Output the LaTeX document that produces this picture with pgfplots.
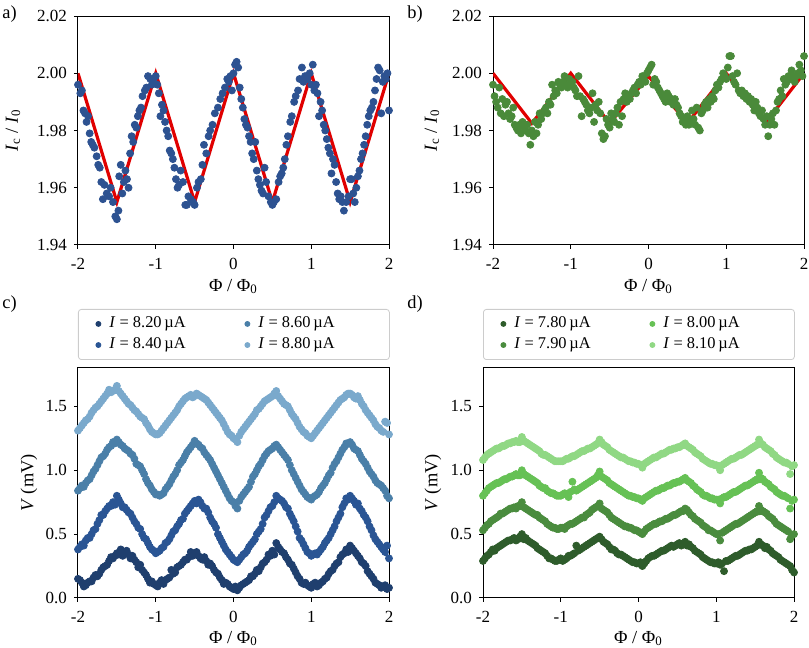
\documentclass[border=0pt]{standalone}
\usepackage{fontspec}
\setmainfont{Liberation Serif}
\usepackage{pgfplots}
\usepackage{pgfplotstable}
\pgfplotsset{compat=1.18}
\definecolor{adot}{HTML}{2D5291}
\definecolor{bdot}{HTML}{4A8A3A}
\definecolor{fitred}{HTML}{E00000}
\definecolor{cA}{HTML}{1F3F6E}
\definecolor{cB}{HTML}{2A5594}
\definecolor{cC}{HTML}{4A7FA8}
\definecolor{cD}{HTML}{7AA9CC}
\definecolor{dA}{HTML}{2E5C2B}
\definecolor{dB}{HTML}{4A8C3E}
\definecolor{dC}{HTML}{66C155}
\definecolor{dD}{HTML}{90D884}

\pgfplotstableread{
x y
-2.00 1.996
-1.97 1.993
-1.95 1.994
-1.93 1.987
-1.91 1.986
-1.89 1.983
-1.87 1.985
-1.85 1.979
-1.83 1.976
-1.81 1.975
-1.79 1.974
-1.76 1.971
-1.74 1.968
-1.72 1.967
-1.70 1.962
-1.68 1.956
-1.66 1.961
-1.63 1.958
-1.60 1.957
-1.58 1.960
-1.55 1.955
-1.52 1.950
-1.50 1.949
-1.48 1.952
-1.47 1.964
-1.45 1.968
-1.43 1.958
-1.41 1.962
-1.39 1.966
-1.37 1.963
-1.35 1.960
-1.33 1.972
-1.31 1.978
-1.29 1.976
-1.27 1.982
-1.25 1.981
-1.23 1.985
-1.21 1.987
-1.19 1.988
-1.17 1.992
-1.14 1.994
-1.12 1.995
-1.10 1.999
-1.07 1.998
-1.05 1.996
-1.03 1.998
-1.00 1.999
-0.98 1.996
-0.96 1.993
-0.94 1.985
-0.92 1.989
-0.90 1.987
-0.88 1.983
-0.86 1.980
-0.84 1.978
-0.82 1.973
-0.80 1.972
-0.78 1.970
-0.76 1.967
-0.74 1.963
-0.72 1.960
-0.70 1.961
-0.68 1.966
-0.65 1.962
-0.62 1.954
-0.60 1.954
-0.58 1.957
-0.55 1.956
-0.52 1.955
-0.50 1.954
-0.47 1.960
-0.45 1.962
-0.42 1.963
-0.40 1.968
-0.38 1.975
-0.35 1.972
-0.32 1.978
-0.30 1.980
-0.27 1.982
-0.24 1.986
-0.20 1.988
-0.17 1.991
-0.14 1.993
-0.11 1.995
-0.08 1.998
-0.06 1.997
-0.04 1.999
-0.02 1.994
0.00 2.000
0.02 2.003
0.04 2.004
0.06 2.002
0.08 1.995
0.10 1.991
0.12 1.988
0.14 1.984
0.16 1.982
0.18 1.981
0.20 1.978
0.22 1.976
0.24 1.972
0.26 1.970
0.28 1.976
0.30 1.966
0.32 1.963
0.34 1.961
0.36 1.959
0.38 1.958
0.40 1.967
0.42 1.962
0.45 1.957
0.48 1.955
0.50 1.954
0.52 1.955
0.55 1.956
0.58 1.962
0.60 1.964
0.62 1.965
0.64 1.967
0.66 1.970
0.68 1.975
0.70 1.978
0.73 1.983
0.75 1.985
0.78 1.990
0.80 1.992
0.83 1.994
0.85 1.998
0.88 2.002
0.90 1.997
0.92 1.999
0.95 1.998
0.98 2.000
1.00 1.996
1.02 2.003
1.04 1.994
1.06 1.996
1.08 1.993
1.10 1.985
1.12 1.990
1.14 1.987
1.16 1.982
1.18 1.980
1.20 1.977
1.22 1.974
1.24 1.972
1.26 1.965
1.28 1.970
1.30 1.968
1.32 1.962
1.34 1.958
1.36 1.956
1.38 1.957
1.40 1.955
1.42 1.952
1.45 1.955
1.48 1.957
1.50 1.963
1.52 1.963
1.54 1.958
1.56 1.955
1.58 1.960
1.60 1.964
1.62 1.966
1.64 1.970
1.66 1.972
1.68 1.975
1.70 1.978
1.72 1.982
1.74 1.985
1.76 1.987
1.78 1.988
1.80 1.990
1.82 1.994
1.84 1.998
1.86 2.002
1.88 2.001
1.90 1.986
1.92 1.997
1.94 1.999
1.96 1.998
1.98 2.000
2.00 1.987
}\tabA

\pgfplotstableread{
x y
-2.00 1.996
-1.98 1.992
-1.96 1.990
-1.94 1.988
-1.92 1.995
-1.90 1.986
-1.88 1.991
-1.86 1.985
-1.84 1.989
-1.82 1.990
-1.80 1.986
-1.78 1.984
-1.76 1.985
-1.74 1.988
-1.72 1.982
-1.70 1.981
-1.68 1.980
-1.66 1.982
-1.64 1.979
-1.62 1.983
-1.60 1.981
-1.58 1.980
-1.56 1.982
-1.54 1.979
-1.52 1.975
-1.50 1.980
-1.48 1.978
-1.46 1.983
-1.44 1.979
-1.42 1.982
-1.40 1.986
-1.38 1.984
-1.36 1.986
-1.34 1.987
-1.32 1.988
-1.30 1.986
-1.28 1.990
-1.26 1.989
-1.24 1.996
-1.22 1.992
-1.20 1.994
-1.18 1.993
-1.16 1.997
-1.14 1.996
-1.12 1.995
-1.10 1.997
-1.08 1.999
-1.06 1.996
-1.04 1.995
-1.02 1.998
-1.00 1.996
-0.98 1.997
-0.96 1.995
-0.94 1.994
-0.92 1.992
-0.90 1.999
-0.88 1.992
-0.86 1.985
-0.84 1.991
-0.82 1.990
-0.80 1.989
-0.78 1.987
-0.76 1.986
-0.74 1.988
-0.72 1.993
-0.70 1.983
-0.68 1.989
-0.66 1.987
-0.64 1.990
-0.62 1.986
-0.60 1.979
-0.58 1.977
-0.56 1.978
-0.54 1.984
-0.52 1.982
-0.50 1.981
-0.48 1.986
-0.46 1.984
-0.44 1.983
-0.42 1.986
-0.40 1.988
-0.38 1.982
-0.36 1.990
-0.34 1.985
-0.32 1.991
-0.30 1.993
-0.28 1.990
-0.26 1.992
-0.24 1.991
-0.22 1.993
-0.20 1.994
-0.18 1.995
-0.16 1.993
-0.14 1.996
-0.12 1.997
-0.10 1.996
-0.08 1.999
-0.06 1.998
-0.04 1.997
-0.02 2.000
0.00 2.001
0.02 2.002
0.04 2.003
0.06 1.996
0.08 1.998
0.10 1.997
0.12 1.995
0.14 1.994
0.16 1.993
0.18 1.992
0.20 1.991
0.22 1.990
0.24 1.993
0.26 1.992
0.28 1.990
0.30 1.991
0.32 1.989
0.34 1.991
0.36 1.989
0.38 1.988
0.40 1.986
0.42 1.985
0.44 1.983
0.46 1.984
0.48 1.982
0.50 1.985
0.52 1.982
0.54 1.983
0.56 1.987
0.58 1.984
0.60 1.982
0.62 1.988
0.64 1.981
0.66 1.980
0.68 1.986
0.70 1.987
0.72 1.989
0.74 1.990
0.76 1.988
0.78 1.991
0.80 1.990
0.82 1.992
0.84 1.991
0.86 1.994
0.88 1.996
0.90 1.995
0.92 1.997
0.94 1.998
0.96 2.000
0.98 1.999
1.00 1.998
1.02 2.002
1.04 2.006
1.06 2.006
1.08 1.999
1.10 1.997
1.12 1.996
1.14 2.000
1.16 1.994
1.18 1.993
1.20 1.994
1.22 1.992
1.24 1.993
1.26 1.991
1.28 1.992
1.30 1.990
1.32 1.991
1.34 1.989
1.36 1.987
1.38 1.990
1.40 1.988
1.42 1.986
1.44 1.985
1.46 1.987
1.48 1.984
1.50 1.982
1.52 1.985
1.54 1.978
1.56 1.982
1.58 1.984
1.60 1.986
1.62 1.982
1.64 1.987
1.66 1.990
1.68 1.991
1.70 1.994
1.72 1.992
1.74 1.998
1.76 1.996
1.78 1.997
1.80 1.999
1.82 1.998
1.84 2.001
1.86 1.999
1.88 1.997
1.90 1.999
1.92 2.000
1.94 2.003
1.96 2.001
1.98 1.999
2.00 2.006
}\tabB

\pgfplotstableread{
x c1 c2 c3 c4
-2.00 0.15 0.38 0.84 1.31
-1.95 0.12 0.42 0.88 1.35
-1.90 0.10 0.45 0.90 1.39
-1.85 0.13 0.47 0.93 1.42
-1.80 0.16 0.53 0.99 1.47
-1.75 0.17 0.58 1.04 1.50
-1.70 0.22 0.65 1.10 1.54
-1.65 0.25 0.68 1.13 1.58
-1.60 0.29 0.72 1.18 1.63
-1.55 0.31 0.75 1.22 1.62
-1.50 0.35 0.80 1.24 1.66
-1.45 0.38 0.74 1.20 1.60
-1.40 0.36 0.71 1.17 1.56
-1.35 0.34 0.67 1.15 1.52
-1.30 0.33 0.63 1.12 1.49
-1.25 0.28 0.58 1.05 1.46
-1.20 0.26 0.54 1.03 1.42
-1.15 0.20 0.47 0.97 1.40
-1.10 0.15 0.43 0.90 1.35
-1.05 0.13 0.38 0.85 1.30
-1.00 0.10 0.35 0.81 1.28
-0.95 0.12 0.37 0.80 1.29
-0.90 0.11 0.40 0.82 1.33
-0.85 0.15 0.44 0.87 1.37
-0.80 0.22 0.49 0.92 1.41
-0.75 0.20 0.53 0.97 1.45
-0.70 0.25 0.58 1.04 1.50
-0.65 0.28 0.62 1.08 1.54
-0.60 0.30 0.68 1.14 1.57
-0.55 0.36 0.72 1.18 1.59
-0.50 0.35 0.76 1.23 1.58
-0.45 0.33 0.77 1.20 1.59
-0.40 0.30 0.72 1.17 1.57
-0.35 0.29 0.70 1.12 1.55
-0.30 0.27 0.63 1.08 1.51
-0.25 0.22 0.58 1.02 1.47
-0.20 0.19 0.50 0.96 1.43
-0.15 0.14 0.44 0.90 1.39
-0.10 0.12 0.38 0.84 1.33
-0.05 0.09 0.34 0.78 1.28
0.00 0.07 0.30 0.75 1.25
0.05 0.06 0.28 0.70 1.22
0.10 0.10 0.32 0.79 1.30
0.15 0.12 0.35 0.83 1.34
0.20 0.14 0.40 0.87 1.38
0.25 0.17 0.44 0.95 1.42
0.30 0.22 0.50 1.00 1.47
0.35 0.24 0.54 1.05 1.50
0.40 0.28 0.63 1.11 1.54
0.45 0.34 0.68 1.15 1.56
0.50 0.37 0.72 1.17 1.58
0.55 0.43 0.80 1.20 1.62
0.60 0.38 0.77 1.16 1.56
0.65 0.35 0.74 1.12 1.52
0.70 0.30 0.70 1.08 1.50
0.75 0.26 0.63 1.00 1.44
0.80 0.20 0.56 0.94 1.40
0.85 0.15 0.47 0.88 1.34
0.90 0.11 0.42 0.83 1.30
0.95 0.10 0.36 0.79 1.27
1.00 0.08 0.33 0.77 1.25
1.05 0.12 0.35 0.80 1.29
1.10 0.10 0.36 0.83 1.33
1.15 0.13 0.40 0.88 1.37
1.20 0.16 0.45 0.93 1.41
1.25 0.21 0.50 0.98 1.45
1.30 0.25 0.56 1.05 1.49
1.35 0.28 0.63 1.10 1.53
1.40 0.34 0.71 1.16 1.56
1.45 0.38 0.78 1.21 1.59
1.50 0.41 0.80 1.22 1.60
1.55 0.37 0.76 1.17 1.57
1.60 0.33 0.74 1.15 1.58
1.65 0.28 0.68 1.09 1.52
1.70 0.25 0.63 1.05 1.47
1.75 0.19 0.56 0.99 1.43
1.80 0.15 0.49 0.95 1.39
1.85 0.11 0.44 0.90 1.34
1.90 0.08 0.40 0.88 1.31
1.95 0.10 0.36 0.84 1.38
2.00 0.08 0.31 0.78 1.28
}\tabC

\pgfplotstableread{
x c1 c2 c3 c4
-1.975 0.14 0.40 0.86 1.33
-1.925 0.09 0.41 0.87 1.37
-1.875 0.12 0.47 0.92 1.40
-1.825 0.13 0.50 0.96 1.45
-1.775 0.18 0.54 1.01 1.49
-1.725 0.19 0.61 1.07 1.52
-1.675 0.24 0.65 1.11 1.56
-1.625 0.26 0.70 1.16 1.60
-1.575 0.32 0.72 1.19 1.61
-1.525 0.33 0.73 1.21 1.63
-1.475 0.34 0.77 1.22 1.62
-1.425 0.33 0.71 1.19 1.58
-1.375 0.37 0.69 1.16 1.54
-1.325 0.31 0.66 1.13 1.51
-1.275 0.30 0.60 1.09 1.47
-1.225 0.24 0.55 1.04 1.44
-1.175 0.22 0.50 1.00 1.41
-1.125 0.18 0.46 0.93 1.37
-1.075 0.12 0.40 0.88 1.32
-1.025 0.11 0.37 0.83 1.29
-0.975 0.09 0.36 0.81 1.28
-0.925 0.14 0.39 0.81 1.31
-0.875 0.14 0.43 0.85 1.35
-0.825 0.16 0.46 0.89 1.39
-0.775 0.19 0.52 0.95 1.43
-0.725 0.24 0.56 1.00 1.47
-0.675 0.26 0.61 1.06 1.52
-0.625 0.30 0.66 1.11 1.56
-0.575 0.32 0.70 1.16 1.58
-0.525 0.33 0.74 1.20 1.57
-0.475 0.36 0.74 1.21 1.60
-0.425 0.31 0.75 1.18 1.58
-0.375 0.32 0.70 1.14 1.56
-0.325 0.26 0.67 1.10 1.53
-0.275 0.25 0.60 1.05 1.49
-0.225 0.20 0.55 0.99 1.45
-0.175 0.16 0.47 0.93 1.41
-0.125 0.11 0.41 0.87 1.36
-0.075 0.11 0.36 0.81 1.30
-0.025 0.08 0.32 0.76 1.27
0.025 0.09 0.29 0.72 1.24
0.075 0.08 0.30 0.76 1.27
0.125 0.11 0.34 0.81 1.32
0.175 0.13 0.37 0.85 1.36
0.225 0.17 0.42 0.91 1.40
0.275 0.19 0.46 0.97 1.44
0.325 0.21 0.52 1.03 1.48
0.375 0.27 0.58 1.08 1.52
0.425 0.30 0.65 1.13 1.55
0.475 0.33 0.71 1.16 1.57
0.525 0.34 0.75 1.19 1.60
0.575 0.40 0.78 1.18 1.58
0.625 0.36 0.76 1.14 1.54
0.675 0.32 0.71 1.10 1.51
0.725 0.27 0.66 1.04 1.47
0.775 0.23 0.60 0.97 1.42
0.825 0.17 0.52 0.91 1.37
0.875 0.12 0.45 0.85 1.32
0.925 0.12 0.39 0.81 1.29
0.975 0.09 0.35 0.78 1.26
1.025 0.11 0.34 0.79 1.27
1.075 0.09 0.34 0.81 1.31
1.125 0.12 0.38 0.86 1.35
1.175 0.15 0.43 0.90 1.39
1.225 0.19 0.47 0.96 1.43
1.275 0.22 0.53 1.02 1.47
1.325 0.27 0.60 1.07 1.51
1.375 0.32 0.66 1.13 1.55
1.425 0.35 0.74 1.18 1.57
1.475 0.36 0.77 1.21 1.60
1.525 0.39 0.78 1.20 1.59
1.575 0.35 0.73 1.16 1.56
1.625 0.31 0.70 1.12 1.55
1.675 0.27 0.65 1.07 1.50
1.725 0.21 0.60 1.02 1.45
1.775 0.17 0.53 0.97 1.41
1.825 0.12 0.46 0.92 1.36
1.875 0.10 0.42 0.89 1.33
1.925 0.09 0.38 0.86 1.30
1.975 0.07 0.41 0.80 1.37
}\tabCb

\pgfplotstableread{
x l1 l2 l3 l4
-2.0 0.13 0.40 0.85 1.32
-1.9 0.11 0.43 0.90 1.38
-1.8 0.14 0.52 0.98 1.46
-1.7 0.20 0.62 1.08 1.53
-1.6 0.28 0.70 1.16 1.59
-1.5 0.33 0.73 1.20 1.61
-1.4 0.35 0.70 1.18 1.57
-1.3 0.32 0.62 1.10 1.50
-1.2 0.25 0.52 1.02 1.43
-1.1 0.16 0.42 0.91 1.36
-1.0 0.11 0.37 0.83 1.29
-0.9 0.12 0.39 0.82 1.32
-0.8 0.17 0.47 0.90 1.40
-0.7 0.24 0.57 1.02 1.48
-0.6 0.31 0.68 1.13 1.55
-0.5 0.34 0.75 1.19 1.58
-0.4 0.32 0.73 1.16 1.56
-0.3 0.26 0.64 1.07 1.50
-0.2 0.18 0.51 0.95 1.42
-0.1 0.11 0.38 0.84 1.33
0.0 0.08 0.30 0.74 1.25
0.1 0.09 0.31 0.78 1.30
0.2 0.13 0.38 0.88 1.39
0.3 0.20 0.48 1.00 1.46
0.4 0.29 0.62 1.10 1.53
0.5 0.36 0.74 1.17 1.57
0.6 0.37 0.77 1.16 1.56
0.7 0.31 0.69 1.06 1.49
0.8 0.21 0.55 0.93 1.40
0.9 0.12 0.41 0.82 1.32
1.0 0.10 0.34 0.78 1.27
1.1 0.11 0.35 0.82 1.32
1.2 0.15 0.42 0.92 1.40
1.3 0.23 0.55 1.04 1.48
1.4 0.32 0.70 1.15 1.55
1.5 0.37 0.78 1.19 1.59
1.6 0.34 0.74 1.14 1.55
1.7 0.24 0.62 1.04 1.47
1.8 0.14 0.48 0.94 1.39
1.9 0.09 0.37 0.86 1.33
2.0 0.08 0.32 0.82 1.29
}\tabCl

\pgfplotstableread{
x d1 d2 d3 d4
-2.00 0.29 0.53 0.80 1.08
-1.95 0.33 0.57 0.84 1.12
-1.90 0.36 0.60 0.87 1.14
-1.85 0.37 0.62 0.89 1.16
-1.80 0.40 0.64 0.90 1.17
-1.75 0.42 0.66 0.92 1.19
-1.70 0.44 0.68 0.93 1.20
-1.65 0.45 0.70 0.95 1.21
-1.60 0.47 0.71 0.96 1.22
-1.55 0.46 0.72 0.96 1.22
-1.50 0.50 0.75 1.00 1.26
-1.45 0.47 0.70 0.96 1.22
-1.40 0.44 0.68 0.94 1.20
-1.35 0.42 0.66 0.92 1.18
-1.30 0.39 0.65 0.90 1.16
-1.25 0.37 0.62 0.87 1.13
-1.20 0.35 0.60 0.86 1.12
-1.15 0.31 0.57 0.83 1.10
-1.10 0.30 0.55 0.82 1.08
-1.05 0.29 0.54 0.80 1.07
-1.00 0.31 0.55 0.80 1.07
-0.95 0.30 0.54 0.82 1.08
-0.90 0.33 0.57 0.79 1.09
-0.85 0.34 0.58 0.91 1.11
-0.80 0.41 0.60 0.84 1.12
-0.75 0.38 0.62 0.86 1.14
-0.70 0.40 0.63 0.88 1.15
-0.65 0.42 0.66 0.90 1.17
-0.60 0.44 0.69 0.92 1.18
-0.55 0.46 0.71 0.94 1.20
-0.50 0.48 0.74 0.99 1.24
-0.45 0.44 0.69 0.94 1.20
-0.40 0.42 0.67 0.92 1.18
-0.35 0.38 0.63 0.89 1.15
-0.30 0.37 0.61 0.87 1.13
-0.25 0.34 0.59 0.85 1.11
-0.20 0.33 0.57 0.83 1.10
-0.15 0.31 0.56 0.81 1.08
-0.10 0.29 0.55 0.80 1.07
-0.05 0.28 0.53 0.79 1.06
0.00 0.27 0.52 0.78 1.05
0.05 0.25 0.50 0.76 1.02
0.10 0.29 0.54 0.79 1.06
0.15 0.32 0.56 0.81 1.08
0.20 0.33 0.58 0.83 1.10
0.25 0.35 0.59 0.84 1.11
0.30 0.37 0.60 0.86 1.13
0.35 0.38 0.62 0.87 1.14
0.40 0.40 0.63 0.88 1.16
0.45 0.40 0.65 0.90 1.17
0.50 0.42 0.66 0.91 1.18
0.55 0.41 0.68 0.92 1.19
0.60 0.44 0.70 0.94 1.21
0.65 0.42 0.67 0.91 1.18
0.70 0.39 0.64 0.88 1.16
0.75 0.36 0.61 0.85 1.13
0.80 0.34 0.59 0.83 1.11
0.85 0.31 0.56 0.80 1.08
0.90 0.29 0.53 0.79 1.06
0.95 0.28 0.52 0.78 1.05
1.00 0.27 0.50 0.77 1.04
1.05 0.26 0.45 0.74 1.00
1.10 0.21 0.52 0.79 1.05
1.15 0.29 0.54 0.80 1.07
1.20 0.31 0.56 0.82 1.09
1.25 0.33 0.58 0.83 1.10
1.30 0.34 0.59 0.85 1.12
1.35 0.36 0.61 0.87 1.13
1.40 0.37 0.63 0.88 1.15
1.45 0.38 0.65 0.90 1.17
1.50 0.40 0.67 0.92 1.19
1.55 0.44 0.72 0.98 1.24
1.60 0.41 0.68 0.93 1.20
1.65 0.40 0.66 0.90 1.17
1.70 0.37 0.63 0.87 1.15
1.75 0.34 0.60 0.85 1.12
1.80 0.32 0.57 0.82 1.09
1.85 0.29 0.55 0.80 1.07
1.90 0.27 0.53 0.79 1.06
1.95 0.25 0.46 0.70 0.97
2.00 0.20 0.50 0.77 1.04
}\tabD

\pgfplotstableread{
x d1 d2 d3 d4
-1.975 0.31 0.55 0.82 1.10
-1.925 0.34 0.58 0.86 1.13
-1.875 0.38 0.61 0.88 1.15
-1.825 0.39 0.63 0.90 1.17
-1.775 0.41 0.66 0.91 1.18
-1.725 0.43 0.67 0.93 1.19
-1.675 0.45 0.69 0.94 1.21
-1.625 0.46 0.70 0.95 1.22
-1.575 0.45 0.70 0.97 1.23
-1.525 0.48 0.72 0.96 1.22
-1.475 0.46 0.71 0.97 1.23
-1.425 0.45 0.69 0.95 1.21
-1.375 0.43 0.67 0.93 1.19
-1.325 0.41 0.65 0.91 1.17
-1.275 0.38 0.63 0.88 1.15
-1.225 0.36 0.61 0.86 1.12
-1.175 0.33 0.58 0.84 1.11
-1.125 0.31 0.56 0.82 1.09
-1.075 0.29 0.55 0.81 1.07
-1.025 0.30 0.54 0.80 1.07
-0.975 0.29 0.55 0.81 1.07
-0.925 0.31 0.56 0.81 1.09
-0.875 0.33 0.58 0.83 1.10
-0.825 0.35 0.59 0.85 1.11
-0.775 0.37 0.61 0.85 1.13
-0.725 0.39 0.63 0.87 1.15
-0.675 0.41 0.65 0.89 1.16
-0.625 0.43 0.67 0.91 1.17
-0.575 0.45 0.70 0.93 1.19
-0.525 0.47 0.72 0.96 1.21
-0.475 0.46 0.70 0.95 1.22
-0.425 0.43 0.68 0.93 1.19
-0.375 0.40 0.65 0.90 1.16
-0.325 0.38 0.62 0.88 1.14
-0.275 0.35 0.60 0.86 1.12
-0.225 0.34 0.58 0.84 1.10
-0.175 0.32 0.56 0.82 1.09
-0.125 0.30 0.55 0.80 1.07
-0.075 0.28 0.54 0.79 1.06
-0.025 0.27 0.53 0.78 1.05
0.025 0.28 0.51 0.77 1.04
0.075 0.27 0.52 0.78 1.05
0.125 0.31 0.55 0.80 1.07
0.175 0.33 0.57 0.82 1.09
0.225 0.34 0.58 0.84 1.10
0.275 0.36 0.60 0.85 1.12
0.325 0.37 0.61 0.86 1.13
0.375 0.39 0.62 0.88 1.15
0.425 0.41 0.64 0.89 1.16
0.475 0.41 0.65 0.90 1.17
0.525 0.43 0.67 0.91 1.18
0.575 0.42 0.68 0.93 1.20
0.625 0.41 0.69 0.92 1.19
0.675 0.40 0.65 0.90 1.17
0.725 0.37 0.62 0.87 1.14
0.775 0.35 0.60 0.84 1.12
0.825 0.32 0.57 0.81 1.09
0.875 0.30 0.55 0.80 1.07
0.925 0.28 0.53 0.78 1.05
0.975 0.27 0.51 0.77 1.04
1.025 0.28 0.50 0.77 1.03
1.075 0.27 0.51 0.78 1.04
1.125 0.29 0.53 0.79 1.06
1.175 0.30 0.55 0.81 1.08
1.225 0.32 0.57 0.83 1.09
1.275 0.33 0.58 0.84 1.11
1.325 0.35 0.60 0.86 1.12
1.375 0.37 0.62 0.88 1.14
1.425 0.38 0.64 0.89 1.16
1.475 0.39 0.66 0.91 1.18
1.525 0.41 0.68 0.93 1.20
1.575 0.42 0.69 0.94 1.21
1.625 0.39 0.67 0.91 1.18
1.675 0.38 0.64 0.89 1.16
1.725 0.35 0.62 0.86 1.13
1.775 0.33 0.58 0.83 1.10
1.825 0.30 0.56 0.81 1.08
1.875 0.28 0.54 0.80 1.06
1.925 0.26 0.52 0.78 1.05
1.975 0.22 0.49 0.76 1.03
}\tabDb

\pgfplotstableread{
x l1 l2 l3 l4
-2.0 0.30 0.55 0.82 1.10
-1.9 0.35 0.59 0.86 1.13
-1.8 0.39 0.63 0.89 1.16
-1.7 0.43 0.67 0.92 1.19
-1.6 0.45 0.69 0.94 1.21
-1.5 0.46 0.70 0.95 1.22
-1.4 0.44 0.68 0.93 1.20
-1.3 0.40 0.64 0.89 1.16
-1.2 0.35 0.60 0.85 1.12
-1.1 0.31 0.56 0.81 1.08
-1.0 0.30 0.55 0.80 1.07
-0.9 0.32 0.56 0.81 1.08
-0.8 0.36 0.60 0.84 1.11
-0.7 0.40 0.64 0.88 1.14
-0.6 0.44 0.68 0.92 1.18
-0.5 0.45 0.70 0.94 1.20
-0.4 0.41 0.66 0.91 1.17
-0.3 0.36 0.61 0.86 1.13
-0.2 0.32 0.57 0.82 1.09
-0.1 0.29 0.54 0.79 1.06
0.0 0.28 0.52 0.78 1.05
0.1 0.30 0.54 0.79 1.06
0.2 0.33 0.57 0.82 1.09
0.3 0.36 0.60 0.85 1.12
0.4 0.39 0.63 0.88 1.15
0.5 0.41 0.65 0.90 1.17
0.6 0.42 0.67 0.91 1.18
0.7 0.39 0.64 0.88 1.15
0.8 0.34 0.58 0.83 1.10
0.9 0.29 0.54 0.79 1.06
1.0 0.27 0.51 0.77 1.04
1.1 0.28 0.52 0.78 1.05
1.2 0.31 0.55 0.81 1.08
1.3 0.34 0.58 0.84 1.11
1.4 0.37 0.62 0.87 1.14
1.5 0.40 0.65 0.90 1.17
1.6 0.41 0.66 0.91 1.19
1.7 0.37 0.62 0.87 1.14
1.8 0.32 0.57 0.82 1.09
1.9 0.27 0.53 0.79 1.06
2.0 0.23 0.50 0.77 1.04
}\tabDl

\newcommand{\labA}[1]{\makebox[59pt][l]{#1}}
\newcommand{\labB}[1]{\makebox[65.5pt][l]{#1}}
\newcommand{\tickfont}{\fontsize{8.5}{10}\selectfont}
\newcommand{\labfont}{\fontsize{9.2}{11}\selectfont}
\newcommand{\legfont}{\fontsize{8.2}{9.8}\selectfont}

\begin{document}
\begin{tikzpicture}
\path (0pt,0pt) rectangle (404.5pt,324pt);
\pgfplotsset{
  panel/.style={
    scale only axis, width=155.5pt,
    xmin=-2, xmax=2, xtick={-2,-1,0,1,2},
    tick align=outside, major tick length=2pt,
    xtick pos=left, ytick pos=left,
    axis line style={line width=0.5pt, black},
    every tick/.style={black, line width=0.5pt},
    font=\tickfont,
    /pgf/number format/assume math mode=true,
    xticklabel style={/pgf/number format/.cd, fixed, precision=0, /tikz/.cd, yshift=-1pt, inner xsep=0pt},
    xlabel={Φ / Φ\textsubscript{0}},
  },
  topp/.style={panel, height=114.5pt, ymin=1.94, ymax=2.02,
    ytick={1.94,1.96,1.98,2.00,2.02},
    yticklabel style={/pgf/number format/.cd, fixed, fixed zerofill, precision=2},
    ylabel={\textit{I}\textsubscript{c} / \textit{I}\textsubscript{0}},
    every axis x label/.style={at={(axis description cs:0.5,-0.18)}, anchor=center, font=\labfont, inner sep=0pt},
  },
  botp/.style={panel, height=115pt, ymin=0, ymax=1.8,
    ytick={0,0.5,1,1.5},
    yticklabel style={/pgf/number format/.cd, fixed, fixed zerofill, precision=1},
    ylabel={\textit{V} (mV)},
    every axis x label/.style={at={(axis description cs:0.5,-0.175)}, anchor=center, font=\labfont, inner sep=0pt},
    legend columns=2,
    legend cell align=left,
    legend image code/.code={\path[draw=none, fill=none] (-10pt,0pt) rectangle (5.5pt,0pt); \draw[##1, mark size=1.25pt] plot coordinates {(0pt,0pt)};},
    legend style={at={(axis description cs:0,1)}, anchor=south west, yshift=4pt,
      draw=black!20, rounded corners=1.5pt, fill=white,
      font=\legfont, inner xsep=0pt, inner ysep=2pt,
      nodes={inner xsep=0pt, inner ysep=1.8pt}},
  },
  pts/.style={only marks, mark=*, mark size=1.75pt, color=#1, mark options={draw=none, fill=#1}},
}

\begin{axis}[topp, at={(39pt,201.5pt)}, anchor=south west,
  every axis y label/.style={at={(axis description cs:-0.209,0.5)}, anchor=center, rotate=90, font=\labfont, inner sep=0pt}]
\addplot[pts=adot] table[x=x,y=y] {\tabA};
\addplot[fitred, line width=1.6pt] coordinates {(-2,2.0) (-1.5,1.955) (-1,2.0) (-0.5,1.955) (0,2.0) (0.5,1.955) (1,2.0) (1.5,1.955) (2,2.0)};
\end{axis}

\begin{axis}[topp, at={(246.5pt,201.5pt)}, anchor=south west,
  every axis y label/.style={at={(axis description cs:-0.196,0.5)}, anchor=center, rotate=90, font=\labfont, inner sep=0pt}]
\addplot[pts=bdot] table[x=x,y=y] {\tabB};
\addplot[fitred, line width=1.6pt] coordinates {(-2,2.0) (-1.5,1.9825) (-1,2.0) (-0.5,1.9825) (0,1.999) (0.5,1.9825) (1,2.0) (1.5,1.9825) (2,2.0)};
\end{axis}

\begin{axis}[botp, at={(39pt,25pt)}, anchor=south west,
  every axis y label/.style={at={(axis description cs:-0.158,0.5)}, anchor=center, rotate=90, font=\labfont, inner sep=0pt}]
\addplot[pts=cA] table[x=x,y=c1] {\tabC};
\addlegendentry{\labA{\textit{I} = 8.20\,µA}}
\addplot[pts=cC] table[x=x,y=c3] {\tabC};
\addlegendentry{\labB{\textit{I} = 8.60\,µA}}
\addplot[pts=cB] table[x=x,y=c2] {\tabC};
\addlegendentry{\labA{\textit{I} = 8.40\,µA}}
\addplot[pts=cD] table[x=x,y=c4] {\tabC};
\addlegendentry{\labB{\textit{I} = 8.80\,µA}}
\addplot[pts=cA, forget plot] table[x=x,y=c1] {\tabCb};
\addplot[pts=cB, forget plot] table[x=x,y=c2] {\tabCb};
\addplot[pts=cC, forget plot] table[x=x,y=c3] {\tabCb};
\addplot[pts=cD, forget plot] table[x=x,y=c4] {\tabCb};
\addplot[cA, line width=1.2pt, smooth, forget plot] table[x=x,y=l1] {\tabCl};
\addplot[cB, line width=1.2pt, smooth, forget plot] table[x=x,y=l2] {\tabCl};
\addplot[cC, line width=1.2pt, smooth, forget plot] table[x=x,y=l3] {\tabCl};
\addplot[cD, line width=1.2pt, smooth, forget plot] table[x=x,y=l4] {\tabCl};
\end{axis}

\begin{axis}[botp, at={(241.5pt,25pt)}, anchor=south west,
  every axis y label/.style={at={(axis description cs:-0.161,0.5)}, anchor=center, rotate=90, font=\labfont, inner sep=0pt}]
\addplot[pts=dA] table[x=x,y=d1] {\tabD};
\addlegendentry{\labA{\textit{I} = 7.80\,µA}}
\addplot[pts=dC] table[x=x,y=d3] {\tabD};
\addlegendentry{\labB{\textit{I} = 8.00\,µA}}
\addplot[pts=dB] table[x=x,y=d2] {\tabD};
\addlegendentry{\labA{\textit{I} = 7.90\,µA}}
\addplot[pts=dD] table[x=x,y=d4] {\tabD};
\addlegendentry{\labB{\textit{I} = 8.10\,µA}}
\addplot[pts=dA, forget plot] table[x=x,y=d1] {\tabDb};
\addplot[pts=dB, forget plot] table[x=x,y=d2] {\tabDb};
\addplot[pts=dC, forget plot] table[x=x,y=d3] {\tabDb};
\addplot[pts=dD, forget plot] table[x=x,y=d4] {\tabDb};
\addplot[dA, line width=1.2pt, smooth, forget plot] table[x=x,y=l1] {\tabDl};
\addplot[dB, line width=1.2pt, smooth, forget plot] table[x=x,y=l2] {\tabDl};
\addplot[dC, line width=1.2pt, smooth, forget plot] table[x=x,y=l3] {\tabDl};
\addplot[dD, line width=1.2pt, smooth, forget plot] table[x=x,y=l4] {\tabDl};
\end{axis}

\node[anchor=north west, inner sep=0pt, font=\labfont] at (1pt,321.5pt) {a)};
\node[anchor=north west, inner sep=0pt, font=\labfont] at (203.5pt,321.5pt) {b)};
\node[anchor=north west, inner sep=0pt, font=\labfont] at (1pt,176.5pt) {c)};
\node[anchor=north west, inner sep=0pt, font=\labfont] at (203.5pt,176.5pt) {d)};
\end{tikzpicture}
\end{document}
